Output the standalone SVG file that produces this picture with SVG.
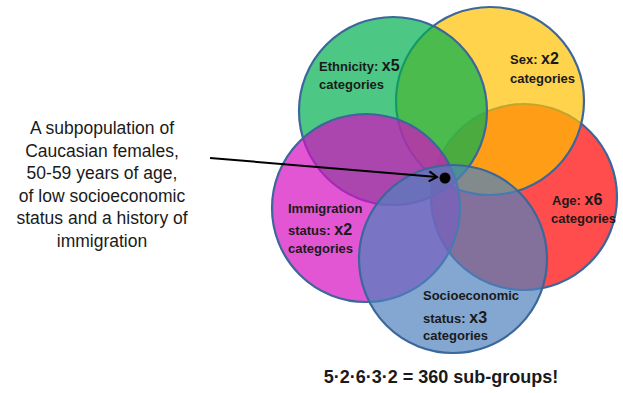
<svg xmlns="http://www.w3.org/2000/svg" width="623" height="393" viewBox="0 0 623 393">
<defs>
<style>
.c{stroke:#3b679a;stroke-width:2.2;fill-opacity:0.7}
.lb{font-family:"Liberation Sans",Arial,sans-serif;font-weight:bold;font-size:13px;fill:#1a1a1a}
.big{font-size:16px;font-weight:bold}
.lt{font-family:"Liberation Sans",Arial,sans-serif;font-size:17.5px;fill:#1a1a1a;text-anchor:middle}
</style>
<marker id="ah" markerWidth="12" markerHeight="12" refX="10" refY="6" orient="auto" markerUnits="userSpaceOnUse">
<path d="M2,1 L10,6 L2,11" fill="none" stroke="#000" stroke-width="2"/>
</marker>
</defs>
<rect width="623" height="393" fill="#fff"/>
<g id="age"><circle class="c" cx="524" cy="197" r="93" fill="#ff0000"/></g>
<g id="sex"><circle class="c" cx="490" cy="101" r="94" fill="#ffc000"/></g>
<g id="ethnicity"><circle class="c" cx="393" cy="111" r="94" fill="#00b050"/></g>
<g id="immigration"><circle class="c" cx="366" cy="208" r="94" fill="#d60ec2"/></g>
<g id="socioeconomic"><circle class="c" cx="453" cy="259" r="94" fill="#4f81bd"/></g>
<g id="labels">
<text class="lb" x="319" y="71">Ethnicity: <tspan class="big">x5</tspan></text>
<text class="lb" x="319" y="89">categories</text>
<text class="lb" x="510" y="64">Sex: <tspan class="big">x2</tspan></text>
<text class="lb" x="510" y="83">categories</text>
<text class="lb" x="552" y="205">Age: <tspan class="big">x6</tspan></text>
<text class="lb" x="551" y="223">categories</text>
<text class="lb" x="288" y="213">Immigration</text>
<text class="lb" x="288" y="235">status: <tspan class="big">x2</tspan></text>
<text class="lb" x="288" y="253">categories</text>
<text class="lb" x="423" y="300">Socioeconomic</text>
<text class="lb" x="423" y="323">status: <tspan class="big">x3</tspan></text>
<text class="lb" x="423" y="340">categories</text>
</g>
<g id="callout">
<text class="lt" x="102" y="134">A subpopulation of</text>
<text class="lt" x="102" y="157">Caucasian females,</text>
<text class="lt" x="102" y="179">50-59 years of age,</text>
<text class="lt" x="102" y="202">of low socioeconomic</text>
<text class="lt" x="102" y="224">status and a history of</text>
<text class="lt" x="102" y="247">immigration</text>
</g>
<g id="connectors">
<line x1="210" y1="158" x2="437" y2="177" stroke="#000" stroke-width="2" marker-end="url(#ah)"/>
<circle cx="445" cy="178" r="5.5" fill="#000"/>
</g>
<text x="441" y="383" text-anchor="middle" font-family="Liberation Sans, Arial, sans-serif" font-weight="bold" font-size="18" fill="#1a1a1a">5·2·6·3·2 = 360 sub-groups!</text>
</svg>
